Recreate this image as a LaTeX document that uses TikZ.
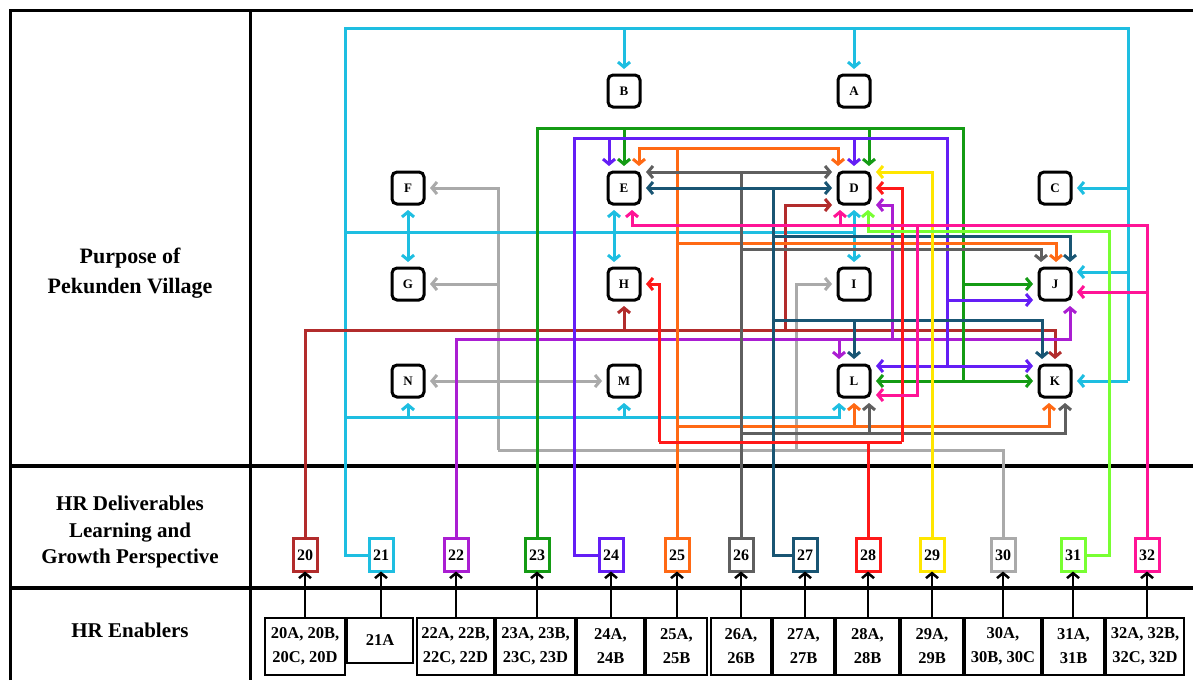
\documentclass[tikz,border=0pt]{standalone}
\usepackage{fontspec}
\setmainfont{Liberation Serif}
\usetikzlibrary{arrows.meta}
\definecolor{c20}{RGB}{178,44,44}
\definecolor{c21}{RGB}{30,190,225}
\definecolor{c22}{RGB}{170,30,210}
\definecolor{c23}{RGB}{20,155,20}
\definecolor{c24}{RGB}{100,30,245}
\definecolor{c25}{RGB}{255,105,20}
\definecolor{c26}{RGB}{95,95,95}
\definecolor{c27}{RGB}{25,85,115}
\definecolor{c28}{RGB}{255,25,25}
\definecolor{c29}{RGB}{255,230,0}
\definecolor{c30}{RGB}{170,170,170}
\definecolor{c31}{RGB}{120,255,50}
\definecolor{c32}{RGB}{255,20,150}
\tikzset{
  >={Straight Barb[length=5pt,width=12pt]},
  letterbox/.style={draw=black, line width=3pt, rounded corners=5pt, minimum width=32pt, minimum height=32pt, inner sep=0pt, outer sep=6pt, font=\fontsize{13}{13}\selectfont\bfseries},
  delbox/.style={draw=#1, line width=3pt, minimum width=24pt, minimum height=33pt, inner sep=0pt, outer sep=0pt, font=\fontsize{16}{16}\selectfont\bfseries},
  enbox/.style={draw=black, line width=2pt, inner sep=0pt, outer sep=0pt, align=center, font=\fontsize{16.5}{24}\selectfont\bfseries},
  conn/.style={line width=3pt},
  blk/.style={draw=black, line width=2.5pt, ->},
  rowlabel/.style={align=center, font=\bfseries}
}
\begin{document}
\begin{tikzpicture}[x=1pt,y=-1pt]
\useasboundingbox (0,0) rectangle (1193,680);
\fill[white] (0,0) rectangle (1193,680);
% table frame
\draw[line width=3pt] (10,680) -- (10,10) -- (1193,10);
\draw[line width=3pt] (250,10) -- (250,680);
\draw[line width=4pt] (10,466) -- (1193,466);
\draw[line width=4pt] (10,588) -- (1193,588);
% row labels
\node[rowlabel, font=\fontsize{22}{30}\selectfont\bfseries] (lab1) at (130,273) {Purpose of\\Pekunden Village};
\node[rowlabel, font=\fontsize{21}{26.5}\selectfont\bfseries] (lab2) at (130,532) {HR Deliverables\\Learning and\\Growth Perspective};
\node[rowlabel, font=\fontsize{21}{26}\selectfont\bfseries] (lab3) at (130,630) {HR Enablers};
% letter boxes
\node[letterbox] (A) at (854,91) {A};
\node[letterbox] (B) at (624,91) {B};
\node[letterbox] (C) at (1055,188) {C};
\node[letterbox] (D) at (854,188) {D};
\node[letterbox] (E) at (624,188) {E};
\node[letterbox] (F) at (408,188) {F};
\node[letterbox] (G) at (408,284) {G};
\node[letterbox] (H) at (624,284) {H};
\node[letterbox] (I) at (854,284) {I};
\node[letterbox] (J) at (1055,284) {J};
\node[letterbox] (K) at (1055,381) {K};
\node[letterbox] (L) at (854,381) {L};
\node[letterbox] (M) at (624,381) {M};
\node[letterbox] (N) at (408,381) {N};
% deliverable boxes
\node[delbox=c20] (d20) at (305,555) {20};
\node[delbox=c21] (d21) at (381,555) {21};
\node[delbox=c22] (d22) at (456,555) {22};
\node[delbox=c23] (d23) at (537,555) {23};
\node[delbox=c24] (d24) at (611,555) {24};
\node[delbox=c25] (d25) at (677,555) {25};
\node[delbox=c26] (d26) at (741,555) {26};
\node[delbox=c27] (d27) at (805,555) {27};
\node[delbox=c28] (d28) at (868,555) {28};
\node[delbox=c29] (d29) at (932,555) {29};
\node[delbox=c30] (d30) at (1003,555) {30};
\node[delbox=c31] (d31) at (1073,555) {31};
\node[delbox=c32] (d32) at (1147,555) {32};
% enabler boxes
\node[enbox, minimum width=80pt, minimum height=57pt] (e20) at (305,646.5) {20A, 20B,\\20C, 20D};
\node[enbox, minimum width=66pt, minimum height=45pt] (e21) at (380,640.5) {21A};
\node[enbox, minimum width=77pt, minimum height=57pt] (e22) at (455.5,646.5) {22A, 22B,\\22C, 22D};
\node[enbox, minimum width=79pt, minimum height=57pt] (e23) at (535.5,646.5) {23A, 23B,\\23C, 23D};
\node[enbox, minimum width=67pt, minimum height=57pt] (e24) at (610.5,646.5) {24A,\\24B};
\node[enbox, minimum width=61pt, minimum height=57pt] (e25) at (676.5,646.5) {25A,\\25B};
\node[enbox, minimum width=60pt, minimum height=57pt] (e26) at (741,646.5) {26A,\\26B};
\node[enbox, minimum width=61pt, minimum height=57pt] (e27) at (803.5,646.5) {27A,\\27B};
\node[enbox, minimum width=63pt, minimum height=57pt] (e28) at (867.5,646.5) {28A,\\28B};
\node[enbox, minimum width=62pt, minimum height=57pt] (e29) at (932,646.5) {29A,\\29B};
\node[enbox, minimum width=76pt, minimum height=57pt] (e30) at (1003,646.5) {30A,\\30B, 30C};
\node[enbox, minimum width=61pt, minimum height=57pt] (e31) at (1073.5,646.5) {31A,\\31B};
\node[enbox, minimum width=78pt, minimum height=57pt] (e32) at (1145,646.5) {32A, 32B,\\32C, 32D};
% enabler -> deliverable arrows
\foreach \n in {20,21,22,23,24,25,26,27,28,29,30,31,32}{
  \draw[blk] (e\n.north -| d\n.south) -- (d\n.south);
}
% ---- 30 light gray
\draw[conn,c30] (d30.north) -- (1003,450) -- (498,450);
\draw[conn,c30,->] (498,450) |- (F.east);
\draw[conn,c30,->] (498,284) -- (G.east);
\draw[conn,c30,<->] (N.east) -- (M.west);
\draw[conn,c30,->] (796,450) |- (I.west);
% ---- 21 cyan
\draw[conn,c21] (d21.west) -- (345,555) -- (345,28) -- (1128,28) -- (1128,381);
\draw[conn,c21,->] (1128,381) -- (K.east);
\draw[conn,c21,->] (624,28) -- (B.north);
\draw[conn,c21,->] (854,28) -- (A.north);
\draw[conn,c21,->] (1128,188) -- (C.east);
\draw[conn,c21,->] (1128,272) -- ([yshift=12pt]J.east);
\draw[conn,c21] (345,232) -- (854,232);
\draw[conn,c21,<->] (F.south) -- (G.north);
\draw[conn,c21,<->] ([xshift=-10pt]E.south) -- ([xshift=-10pt]H.north);
\draw[conn,c21,<->] (D.south) -- (I.north);
\draw[conn,c21,->] (345,417) -| ([xshift=-15pt]L.south);
\draw[conn,c21,->] (408,417) -- (N.south);
\draw[conn,c21,->] (624,417) -- (M.south);
% ---- 20 brown
\draw[conn,c20,->] (d20.north) -- (305,330) -| (K.north);
\draw[conn,c20,->] (624,330) -- (H.south);
\draw[conn,c20,->] (785,330) |- ([yshift=-17pt]D.west);
% ---- 22 purple
\draw[conn,c22,->] (d22.north) -- (456,339) -| ([xshift=15pt]J.south);
\draw[conn,c22,->] (839,339) -- ([xshift=-15pt]L.north);
\draw[conn,c22,->] (892,339) |- ([yshift=-17pt]D.east);
% ---- 23 green
\draw[conn,c23] (d23.north) -- (537,128) -- (963,128) -- (963,381);
\draw[conn,c23,->] (624,128) -- (E.north);
\draw[conn,c23,->] (869,128) -- ([xshift=15pt]D.north);
\draw[conn,c23,->] (963,284) -- (J.west);
\draw[conn,c23,<->] (L.east) -- (K.west);
% ---- 24 violet
\draw[conn,c24] (d24.west) -- (574,555) -- (574,138) -- (947,138) -- (947,366);
\draw[conn,c24,->] (609,138) -- ([xshift=-15pt]E.north);
\draw[conn,c24,->] (854,138) -- (D.north);
\draw[conn,c24,->] (947,300) -- ([yshift=-16pt]J.west);
\draw[conn,c24,<->] ([yshift=15pt]L.east) -- ([yshift=15pt]K.west);
% ---- 25 orange
\draw[conn,c25] (d25.north) -- (677,148);
\draw[conn,c25,<->] ([xshift=15pt]E.north) -- (639,148) -- (838,148) -- ([xshift=-16pt]D.north);
\draw[conn,c25,->] (677,243) -| ([xshift=1pt]J.north);
\draw[conn,c25,->] (677,426) -| ([xshift=-6pt]K.south);
\draw[conn,c25,->] (854,426) -- (L.south);
% ---- 26 dark gray
\draw[conn,c26] (d26.north) -- (741,172);
\draw[conn,c26,<->] ([yshift=16pt]E.east) -- ([yshift=16pt]D.west);
\draw[conn,c26,->] (741,249) -| ([xshift=-14pt]J.north);
\draw[conn,c26,->] (741,433) -| ([xshift=10pt]K.south);
\draw[conn,c26,->] (869,433) -- ([xshift=15pt]L.south);
% ---- 27 teal
\draw[conn,c27] (d27.west) -- (773,555) -- (773,188);
\draw[conn,c27,<->] (E.east) -- (D.west);
\draw[conn,c27,->] (773,236) -| ([xshift=15pt]J.north);
\draw[conn,c27,->] (773,320) -| ([xshift=-13pt]K.north);
\draw[conn,c27,->] (854,320) -- (L.north);
% ---- 28 red
\draw[conn,c28] (d28.north) -- (868,442);
\draw[conn,c28] (659,442) -- (902,442);
\draw[conn,c28,->] (659,442) |- (H.east);
\draw[conn,c28,->] (902,442) |- (D.east);
% ---- 29 yellow
\draw[conn,c29,->] (d29.north) |- ([yshift=16pt]D.east);
% ---- 31 light green
\draw[conn,c31,->] (d31.east) -- (1109,555) -- (1109,231) -| ([xshift=14pt]D.south);
% ---- 32 pink
\draw[conn,c32,->] (d32.north) -- (1147,225) -| ([xshift=8pt]E.south);
\draw[conn,c32,->] (840,225) -- ([xshift=-14pt]D.south);
\draw[conn,c32,->] (1147,292) -- ([yshift=-8pt]J.east);
\draw[conn,c32,->] (917,225) |- ([yshift=-14pt]L.east);
\end{tikzpicture}
\end{document}
